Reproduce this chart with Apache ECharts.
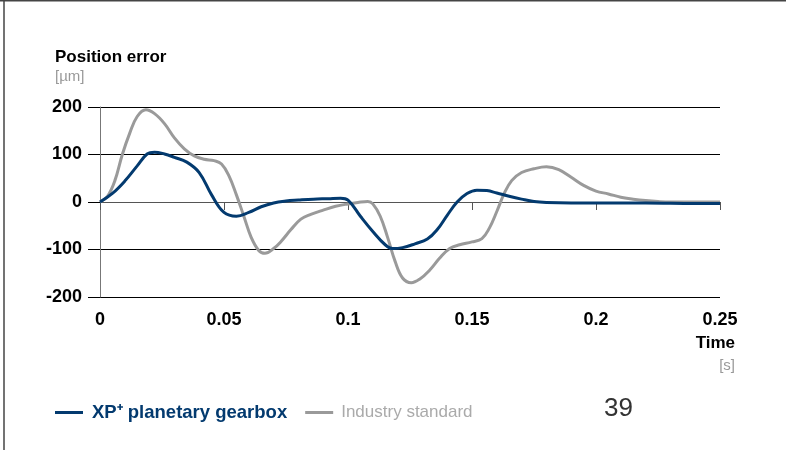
<!DOCTYPE html>
<html>
<head>
<meta charset="utf-8">
<script src="https://cdn.jsdelivr.net/npm/echarts@6/dist/echarts.min.js"></script>
<style>
  html, body { margin: 0; padding: 0; background: #fff; }
  #main { width: 786px; height: 450px; }
</style>
</head>
<body>
<div id="main"></div>
<script>
// time [s] / position error [µm]
var xpTime = [0, 0.005, 0.010, 0.015, 0.019, 0.022, 0.026, 0.030, 0.035, 0.040, 0.045, 0.050, 0.055, 0.060, 0.065, 0.070, 0.075, 0.080, 0.086, 0.092, 0.097, 0.100, 0.105, 0.110, 0.115, 0.118, 0.122, 0.127, 0.132, 0.136, 0.140, 0.144, 0.148, 0.152, 0.156, 0.160, 0.165, 0.170, 0.175, 0.180, 0.190, 0.200, 0.220, 0.240, 0.250];
var xpError = [0, 18, 44, 76, 101, 105, 101, 94, 84, 62, 15, -22, -30, -22, -10, -2, 2, 4, 6, 7, 8, 4, -30, -62, -90, -98, -96, -88, -78, -58, -28, 0, 18, 25, 24, 19, 12, 6, 1, -1, -2, -2, -2, -3, -3];

var stdTime = [0, 0.003, 0.006, 0.009, 0.012, 0.015, 0.0185, 0.022, 0.026, 0.030, 0.034, 0.038, 0.042, 0.046, 0.049, 0.052, 0.055, 0.058, 0.061, 0.064, 0.0665, 0.070, 0.073, 0.077, 0.081, 0.085, 0.090, 0.095, 0.100, 0.104, 0.108, 0.110, 0.113, 0.116, 0.119, 0.122, 0.1255, 0.129, 0.133, 0.137, 0.141, 0.145, 0.150, 0.154, 0.157, 0.160, 0.163, 0.166, 0.170, 0.175, 0.180, 0.185, 0.190, 0.195, 0.200, 0.205, 0.210, 0.215, 0.220, 0.225, 0.230, 0.240, 0.250];
var stdError = [0, 12, 45, 100, 145, 180, 194, 186, 165, 135, 112, 97, 90, 87, 80, 55, 15, -30, -75, -102, -108, -98, -83, -58, -36, -26, -17, -9, -4, -1, 1, -4, -30, -75, -125, -160, -170, -162, -143, -118, -98, -90, -84, -77, -55, -20, 18, 45, 62, 70, 74, 68, 52, 35, 23, 17, 10, 6, 3, 1, 0, 0, 0];

var seriesNames = ['XP\u207A planetary gearbox', 'Industry standard'];
var yTicks = [-200, -100, 0, 100, 200];

function pairs(xs, ys) {
    return xs.map(function (x, i) { return [x, ys[i]]; });
}

var font = '"Liberation Sans", Arial, sans-serif';
var blue = '#033a6f';
var grey = '#9a9a9a';

var myChart = echarts.init(document.getElementById('main'));
myChart.setOption({
    animation: false,
    textStyle: { fontFamily: font },
    title: {
        text: 'Position error',
        subtext: '[\u00B5m]',
        left: 50,
        top: 44,
        itemGap: 3,
        textStyle: { fontSize: 17, fontWeight: 'bold', color: '#000', fontFamily: font },
        subtextStyle: { fontSize: 15, color: '#999', fontFamily: font }
    },
    legend: {
        left: 50,
        top: 398,
        itemWidth: 28,
        itemHeight: 3,
        itemGap: 18,
        icon: 'rect',
        data: [{
            name: seriesNames[0],
            textStyle: { color: blue, fontWeight: 'bold', fontSize: 18.5, fontFamily: font, padding: [0, 0, 0, 4] }
        }, {
            name: seriesNames[1],
            textStyle: { color: '#aaa', fontSize: 17, fontFamily: font, padding: [0, 0, 0, 3] }
        }]
    },
    grid: { left: 100, right: 66, top: 107, bottom: 153 },
    xAxis: {
        type: 'value',
        min: 0,
        max: 0.25,
        interval: 0.05,
        axisLine: { lineStyle: { color: '#555', width: 1 } },
        axisTick: { length: 8, lineStyle: { color: '#555' } },
        axisLabel: {
            margin: 14, fontSize: 18, fontWeight: 'bold', color: '#000', fontFamily: font,
            formatter: function (v) { return String(+v.toFixed(2)); }
        },
        splitLine: { show: false }
    },
    yAxis: {
        type: 'value',
        min: yTicks[0],
        max: yTicks[yTicks.length - 1],
        interval: 100,
        axisLine: { show: true, lineStyle: { color: '#777', width: 1 } },
        axisTick: { show: true, length: 12, lineStyle: { color: '#000' } },
        axisLabel: { margin: 18, fontSize: 18, fontWeight: 'bold', color: '#000', fontFamily: font },
        splitLine: { show: true, lineStyle: { color: '#000', width: 1 } }
    },
    series: [{
        name: seriesNames[1],
        type: 'line',
        smooth: 0.4,
        showSymbol: false,
        z: 2,
        color: grey,
        lineStyle: { width: 3, color: grey },
        data: pairs(stdTime, stdError)
    }, {
        name: seriesNames[0],
        type: 'line',
        smooth: 0.4,
        showSymbol: false,
        z: 3,
        color: blue,
        lineStyle: { width: 3, color: blue },
        data: pairs(xpTime, xpError)
    }],
    graphic: [{
        type: 'line',
        shape: { x1: 0, y1: 0.5, x2: 786, y2: 0.5 },
        style: { stroke: '#444', lineWidth: 2 }
    }, {
        type: 'line',
        shape: { x1: 4, y1: 0, x2: 4, y2: 450 },
        style: { stroke: '#444', lineWidth: 1.5 }
    }, {
        type: 'text',
        x: 735,
        y: 343,
        style: { text: 'Time', fontSize: 17, fontWeight: 'bold', fill: '#000', fontFamily: font, align: 'right', verticalAlign: 'middle' }
    }, {
        type: 'text',
        x: 735,
        y: 366,
        style: { text: '[s]', fontSize: 15, fill: '#999', fontFamily: font, align: 'right', verticalAlign: 'middle' }
    }, {
        type: 'text',
        left: 604,
        top: 396,
        style: { text: '39', fontSize: 26, fill: '#333', fontFamily: font }
    }]
});
</script>
</body>
</html>
